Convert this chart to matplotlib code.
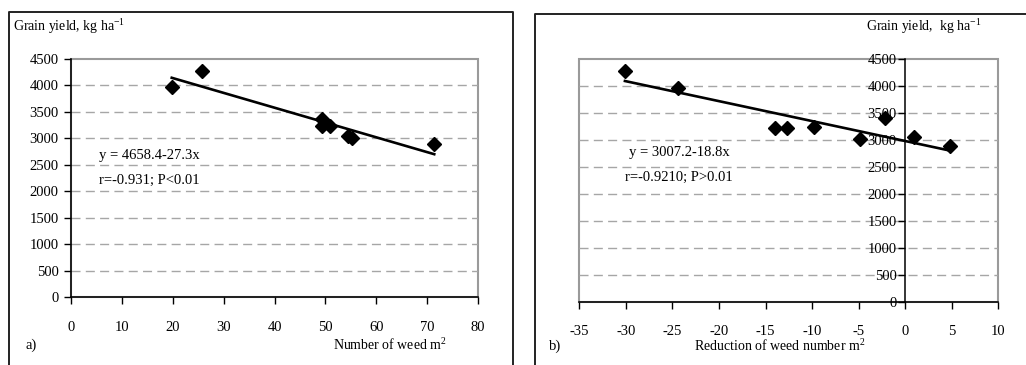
import matplotlib
matplotlib.use("Agg")
import matplotlib.pyplot as plt
from matplotlib.lines import Line2D

plt.rcParams['font.family'] = ['Liberation Serif', 'DejaVu Serif']
plt.rcParams['mathtext.fontset'] = 'custom'
plt.rcParams['mathtext.rm'] = 'Liberation Serif'
plt.rcParams['axes.unicode_minus'] = False

# data
weeds_a = [19.8, 25.8, 49.4, 49.3, 50.9, 54.5, 55.3, 71.4]
yield_a = [3970, 4280, 3370, 3230, 3230, 3050, 3010, 2900]
trend_a_x = [19.8, 71.4]
trend_a_y = [4145, 2700]

reduct_b = [-30.1, -24.4, -14.0, -12.7, -9.8, -4.8, -2.2, 0.9, 4.85]
yield_b = [4283, 3957, 3227, 3227, 3245, 3011, 3400, 3048, 2893]
trend_b_x = [-30.1, 4.85]
trend_b_y = [4092, 2800]

yticks = list(range(0, 4501, 500))
xticks_a = list(range(0, 81, 10))
xticks_b = list(range(-35, 11, 5))

W, H = 1026, 365
fig = plt.figure(figsize=(W / 100, H / 100), dpi=100)

def px(x0, x1, ytop, ybot):
    return [x0 / W, 1 - ybot / H, (x1 - x0) / W, (ybot - ytop) / H]

grid_kw = dict(color='#a6a6a6', lw=1, ls=(0, (6.5, 3.8)))
fs = 10.5

# outer frames
fig.add_artist(Line2D([9 / W, 9 / W, 512.7 / W, 512.7 / W],
                      [0, 1 - 12 / H, 1 - 12 / H, 0], color='#222222', lw=1.4))
fig.add_artist(Line2D([534.7 / W, 534.7 / W, 1.01],
                      [0, 1 - 14 / H, 1 - 14 / H], color='#222222', lw=1.4))

# ---- panel a
ax = fig.add_axes(px(71, 478, 59, 297))
ax.set_xlim(0, 80)
ax.set_ylim(0, 4500)
ax.set_xticks(xticks_a)
ax.set_yticks(yticks)
for v in yticks[1:-1]:
    ax.axhline(v, **grid_kw, zorder=0)
ax.patch.set_edgecolor('#9a9a9a')
ax.patch.set_linewidth(1.5)
for s in ['top', 'right']:
    ax.spines[s].set_visible(False)
for s in ['left', 'bottom']:
    ax.spines[s].set_color('black')
    ax.spines[s].set_linewidth(1.1)
ax.tick_params(direction='out', length=5, width=1, labelsize=fs, pad=4)
ax.tick_params(axis='x', pad=12)
ax.plot(trend_a_x, trend_a_y, color='black', lw=1.9, zorder=3)
ax.plot(weeds_a, yield_a, 'D', color='black', ms=7, zorder=4)
ax.text(99 / W, 1 - 156 / H, 'y = 4658.4-27.3x', transform=fig.transFigure,
        fontsize=fs, va='center', ha='left')
ax.text(99 / W, 1 - 180 / H, 'r=-0.931; P<0.01', transform=fig.transFigure,
        fontsize=fs, va='center', ha='left')
fig.text(13 / W, 1 - 26 / H, 'Grain yield, kg ha$^{-1}$', fontsize=fs - 0.5,
         va='center', ha='left')
fig.text(26 / W, 1 - 345 / H, 'a)', fontsize=fs, va='center', ha='left')
fig.text(333 / W, 1 - 345 / H, 'Number of weed m$^{2}$', fontsize=fs - 0.5,
         va='center', ha='left')

# ---- panel b
bx = fig.add_axes(px(579.3, 998.3, 59, 301.7))
bx.set_xlim(-35, 10)
bx.set_ylim(0, 4500)
bx.set_xticks(xticks_b)
bx.set_yticks(yticks)
for v in yticks[1:-1]:
    bx.axhline(v, **grid_kw, zorder=0)
bx.patch.set_edgecolor('#9a9a9a')
bx.patch.set_linewidth(1.5)
for s in ['top', 'right']:
    bx.spines[s].set_visible(False)
bx.spines['left'].set_position(('data', 0))
for s in ['left', 'bottom']:
    bx.spines[s].set_color('black')
    bx.spines[s].set_linewidth(1.1)
bx.tick_params(direction='out', length=5, width=1, labelsize=fs, pad=1)
bx.tick_params(axis='x', pad=11.5)
bx.plot(trend_b_x, trend_b_y, color='black', lw=1.9, zorder=3)
bx.plot(reduct_b, yield_b, 'D', color='black', ms=7, zorder=4)
bx.text(629 / W, 1 - 153 / H, 'y = 3007.2-18.8x', transform=fig.transFigure,
        fontsize=fs, va='center', ha='left')
bx.text(625 / W, 1 - 177 / H, 'r=-0.9210; P>0.01', transform=fig.transFigure,
        fontsize=fs, va='center', ha='left')
fig.text(866 / W, 1 - 26 / H, 'Grain yield,  kg ha$^{-1}$', fontsize=fs - 0.5,
         va='center', ha='left')
fig.text(549 / W, 1 - 346 / H, 'b)', fontsize=fs, va='center', ha='left')
fig.text(694 / W, 1 - 346 / H, 'Reduction of weed number m$^{2}$', fontsize=fs - 0.5,
         va='center', ha='left')

fig.savefig('out.png', dpi=100)
